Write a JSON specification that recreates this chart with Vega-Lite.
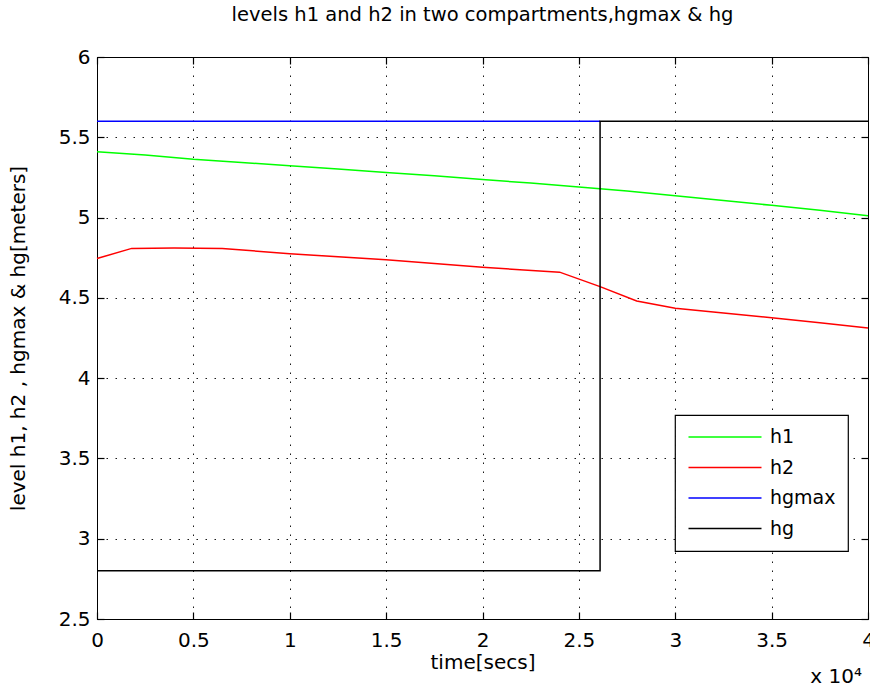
{
  "$schema": "https://vega.github.io/schema/vega-lite/v6.json",
  "width": 771,
  "height": 562,
  "autosize": {"type": "none"},
  "padding": {"left": 97, "top": 57, "right": 2, "bottom": 68},
  "background": "white",
  "title": {"text": "levels h1 and h2 in two compartments,hgmax & hg", "font": "DejaVu Sans", "fontSize": 19.5, "fontWeight": "normal", "color": "black", "anchor": "middle", "offset": 22},
  "config": {
    "font": "DejaVu Sans",
    "view": {"stroke": "black", "strokeWidth": 1},
    "axis": {
      "domainColor": "black", "domainWidth": 1,
      "tickColor": "black", "tickSize": -7, "tickWidth": 1.2,
      "labelColor": "black", "labelFontSize": 20, "labelFont": "DejaVu Sans",
      "titleFont": "DejaVu Sans", "titleFontSize": 20, "titleFontWeight": "normal", "titleColor": "black",
      "gridColor": "black", "gridDash": [1.5, 7.5], "gridOpacity": 0.9, "gridWidth": 1,
      "labelFlush": false, "labelOverlap": false, "labelBound": false
    },
    "legend": {
      "orient": "none", "legendX": 578, "legendY": 358,
      "fillColor": "white", "strokeColor": "black", "strokeWidth": 1.2,
      "padding": 12, "symbolType": "M-4,0H4", "symbolSize": 333, "symbolStrokeWidth": 1.5,
      "symbolOffset": 28, "labelOffset": 35, "labelFontSize": 19, "labelFont": "DejaVu Sans", "labelColor": "black",
      "rowPadding": 10.5, "title": null
    }
  },
  "datasets": {
    "lines": [
      {"s": "h1", "i": 0, "t": 0, "v": 5.41},
      {"s": "h1", "i": 1, "t": 2500, "v": 5.39},
      {"s": "h1", "i": 2, "t": 5000, "v": 5.363},
      {"s": "h1", "i": 3, "t": 7500, "v": 5.343},
      {"s": "h1", "i": 4, "t": 10000, "v": 5.322},
      {"s": "h1", "i": 5, "t": 12500, "v": 5.302},
      {"s": "h1", "i": 6, "t": 15000, "v": 5.28},
      {"s": "h1", "i": 7, "t": 17500, "v": 5.26},
      {"s": "h1", "i": 8, "t": 20000, "v": 5.237},
      {"s": "h1", "i": 9, "t": 22500, "v": 5.215},
      {"s": "h1", "i": 10, "t": 25000, "v": 5.19},
      {"s": "h1", "i": 11, "t": 27500, "v": 5.165},
      {"s": "h1", "i": 12, "t": 30000, "v": 5.136},
      {"s": "h1", "i": 13, "t": 32500, "v": 5.107},
      {"s": "h1", "i": 14, "t": 35000, "v": 5.076},
      {"s": "h1", "i": 15, "t": 37500, "v": 5.045},
      {"s": "h1", "i": 16, "t": 40000, "v": 5.012},
      {"s": "h2", "i": 0, "t": 0, "v": 4.745},
      {"s": "h2", "i": 1, "t": 1800, "v": 4.808},
      {"s": "h2", "i": 2, "t": 4000, "v": 4.81},
      {"s": "h2", "i": 3, "t": 6500, "v": 4.808},
      {"s": "h2", "i": 4, "t": 10000, "v": 4.775},
      {"s": "h2", "i": 5, "t": 15000, "v": 4.737},
      {"s": "h2", "i": 6, "t": 20000, "v": 4.69},
      {"s": "h2", "i": 7, "t": 24000, "v": 4.66},
      {"s": "h2", "i": 8, "t": 26100, "v": 4.57},
      {"s": "h2", "i": 9, "t": 28000, "v": 4.48},
      {"s": "h2", "i": 10, "t": 30000, "v": 4.435},
      {"s": "h2", "i": 11, "t": 32500, "v": 4.405},
      {"s": "h2", "i": 12, "t": 35000, "v": 4.376},
      {"s": "h2", "i": 13, "t": 37500, "v": 4.345},
      {"s": "h2", "i": 14, "t": 40000, "v": 4.312},
      {"s": "hgmax", "i": 0, "t": 0, "v": 5.6},
      {"s": "hgmax", "i": 1, "t": 26100, "v": 5.6},
      {"s": "hg", "i": 0, "t": 0, "v": 2.8},
      {"s": "hg", "i": 1, "t": 26100, "v": 2.8},
      {"s": "hg", "i": 2, "t": 26100, "v": 5.6},
      {"s": "hg", "i": 3, "t": 40000, "v": 5.6}
    ],
    "note": [{"t": 40000, "v": 2.5, "txt": "x 10⁴"}]
  },
  "layer": [
    {
      "data": {"name": "lines"},
      "mark": {"type": "line", "strokeWidth": 1.5},
      "encoding": {
        "x": {"field": "t", "type": "quantitative", "scale": {"domain": [0, 40000], "nice": false, "zero": false},
          "axis": {"orient": "bottom", "values": [0, 5000, 10000, 15000, 20000, 25000, 30000, 35000, 40000], "labelExpr": "format(datum.value / 10000, '~g')", "labelPadding": 18, "title": "time[secs]", "titlePadding": 2, "grid": true}},
        "y": {"field": "v", "type": "quantitative", "scale": {"domain": [2.5, 6], "nice": false, "zero": false},
          "axis": {"orient": "left", "values": [2.5, 3, 3.5, 4, 4.5, 5, 5.5, 6], "format": "~g", "labelPadding": 14, "title": "level h1, h2 , hgmax & hg[meters]", "titlePadding": 30, "grid": true}},
        "color": {"field": "s", "type": "nominal", "scale": {"domain": ["h1", "h2", "hgmax", "hg"], "range": ["#00ff00", "#ff0000", "#0000ff", "#000000"]}},
        "order": {"field": "i", "type": "quantitative"}
      }
    },
    {
      "data": {"name": "note"},
      "mark": {"type": "text", "align": "right", "baseline": "alphabetic", "dx": -6, "dy": 64, "fontSize": 20, "font": "DejaVu Sans", "color": "black", "clip": false},
      "encoding": {
        "x": {"field": "t", "type": "quantitative", "axis": {"orient": "top", "values": [0, 5000, 10000, 15000, 20000, 25000, 30000, 35000, 40000], "labels": false, "title": null, "grid": false, "domain": false}},
        "y": {"field": "v", "type": "quantitative", "axis": {"orient": "right", "values": [2.5, 3, 3.5, 4, 4.5, 5, 5.5, 6], "labels": false, "title": null, "grid": false, "domain": false}},
        "text": {"field": "txt"}
      }
    }
  ],
  "resolve": {"axis": {"x": "independent", "y": "independent"}}
}
